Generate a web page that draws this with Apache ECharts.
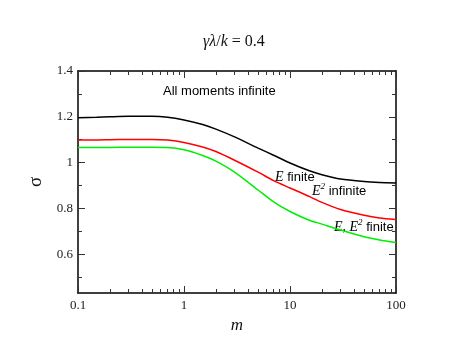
<!DOCTYPE html>
<html><head><meta charset="utf-8">
<script src="https://cdn.jsdelivr.net/npm/echarts@6/dist/echarts.min.js"></script>
<style>html,body{margin:0;padding:0;background:#fff}#c{width:457px;height:353px}</style>
</head><body><div id="c"></div>
<script>
const mValues = [0.1, 0.15, 0.2, 0.3, 0.5, 0.7, 1, 1.5, 2, 3, 5, 7, 10, 15, 20, 30, 50, 70, 100];
const allInfinite = [1.196, 1.198, 1.200, 1.202, 1.202, 1.198, 1.186, 1.166, 1.146, 1.112, 1.063, 1.032, 0.998, 0.965, 0.947, 0.928, 0.917, 0.913, 0.911];
const eFinite = [1.099, 1.099, 1.100, 1.101, 1.101, 1.098, 1.088, 1.068, 1.048, 1.010, 0.958, 0.921, 0.889, 0.853, 0.826, 0.795, 0.770, 0.758, 0.751];
const bothFinite = [1.066, 1.066, 1.066, 1.067, 1.067, 1.066, 1.056, 1.031, 1.006, 0.958, 0.880, 0.828, 0.786, 0.749, 0.731, 0.705, 0.676, 0.662, 0.651];
const xMajorTicks = [0.1, 1, 10, 100];
const xMinorTicks = [0.2,0.3,0.4,0.5,0.6,0.7,0.8,0.9,2,3,4,5,6,7,8,9,20,30,40,50,60,70,80,90];
const yMajorTicks = [0.6, 0.8, 1, 1.2, 1.4];
const yMinorTicks = [0.5, 0.7, 0.9, 1.1, 1.3];
const yMin = 0.43, yMax = 1.4;

const chart = echarts.init(document.getElementById('c'), null, {renderer: 'canvas'});
const serif = '"Liberation Serif", "DejaVu Serif", serif';
const sans = '"Liberation Sans", Arial, sans-serif';
const lineCol = '#000';

function xAx(pos, ticks, len, labels, line) {
  return {
    type: 'log', logBase: 10, min: 0.1, max: 100, position: pos,
    axisLine: {show: line, lineStyle: {color: lineCol, width: 1.5}},
    axisTick: {show: true, inside: true, length: len, customValues: ticks, lineStyle: {color: '#333', width: 1}},
    axisLabel: labels ? {show: true, customValues: ticks, margin: 6, color: '#222', fontFamily: serif, fontSize: 13,
      formatter: v => String(+v.toPrecision(3))} : {show: false},
    splitLine: {show: false}
  };
}
function yAx(pos, ticks, len, labels, line) {
  return {
    type: 'value', min: yMin, max: yMax, position: pos,
    axisLine: {show: line, lineStyle: {color: lineCol, width: 1.5}},
    axisTick: {show: true, inside: true, length: len, customValues: ticks, lineStyle: {color: '#333', width: 1}},
    axisLabel: labels ? {show: true, customValues: ticks, margin: 5, color: '#222', fontFamily: serif, fontSize: 13,
      formatter: v => String(+v.toFixed(1))} : {show: false},
    splitLine: {show: false}
  };
}
const xAxes = [xAx('bottom', xMajorTicks, 7, true, true), xAx('bottom', xMinorTicks, 4, false, false),
               xAx('top', xMajorTicks, 7, false, true), xAx('top', xMinorTicks, 4, false, false)];
Object.assign(xAxes[0], {name: 'm', nameLocation: 'middle', nameGap: 16,
  nameTextStyle: {fontFamily: serif, fontStyle: 'italic', fontSize: 17, color: '#111'}});
const yAxes = [yAx('left', yMajorTicks, 7, true, true), yAx('left', yMinorTicks, 4, false, false),
               yAx('right', yMajorTicks, 7, false, true), yAx('right', yMinorTicks, 4, false, false)];
Object.assign(yAxes[0], {name: 'σ', nameLocation: 'middle', nameGap: 31, nameRotate: 90,
  nameTextStyle: {fontFamily: serif, fontSize: 19, color: '#111'}});

function ser(name, vals, color) {
  return {name, type: 'line', xAxisIndex: 0, yAxisIndex: 0, smooth: 0.25, showSymbol: false, symbol: 'none',
    lineStyle: {color, width: 1.5}, data: mValues.map((m, i) => [m, vals[i]])};
}

chart.setOption({
  animation: false,
  backgroundColor: '#fff',
  grid: {left: 78, top: 71, right: 61, bottom: 60, containLabel: false},
  xAxis: xAxes,
  yAxis: yAxes,
  series: [ser('All moments infinite', allInfinite, '#000000'),
           ser('E finite, E2 infinite', eFinite, '#ff0000'),
           ser('E, E2 finite', bothFinite, '#00ee00')],
  graphic: [
    {type: 'text', x: 203, y: 34, style: {
      text: '{i|γλ}{n|/}{i|k}{n| = 0.4}',
      rich: {n: {fontFamily: serif, fontSize: 16, fill: '#111'}, i: {fontFamily: serif, fontSize: 16, fontStyle: 'italic', fill: '#111'}}
    }},
    {type: 'text', x: 163, y: 85, style: {text: 'All moments infinite', fontFamily: sans, fontSize: 13, fill: '#000'}},
    {type: 'text', x: 275, y: 170, style: {
      text: '{e|E}{t| finite}',
      rich: {e: {fontFamily: serif, fontStyle: 'italic', fontSize: 14, fill: '#000'}, t: {fontFamily: sans, fontSize: 13, fill: '#000'}}}},
    {type: 'text', x: 312, y: 182, style: {
      text: '{e|E}{s|2}{t| infinite}',
      rich: {e: {fontFamily: serif, fontStyle: 'italic', fontSize: 14, fill: '#000'},
             s: {fontFamily: serif, fontStyle: 'italic', fontSize: 9, fill: '#000', padding: [0, 0, 9, 0]},
             t: {fontFamily: sans, fontSize: 13, fill: '#000'}}}},
    {type: 'text', x: 334, y: 218, style: {
      text: '{e|E, E}{s|2}{t| finite}',
      rich: {e: {fontFamily: serif, fontStyle: 'italic', fontSize: 14, fill: '#000'},
             s: {fontFamily: serif, fontStyle: 'italic', fontSize: 9, fill: '#000', padding: [0, 0, 9, 0]},
             t: {fontFamily: sans, fontSize: 13, fill: '#000'}}}}
  ]
});
</script></body></html>
